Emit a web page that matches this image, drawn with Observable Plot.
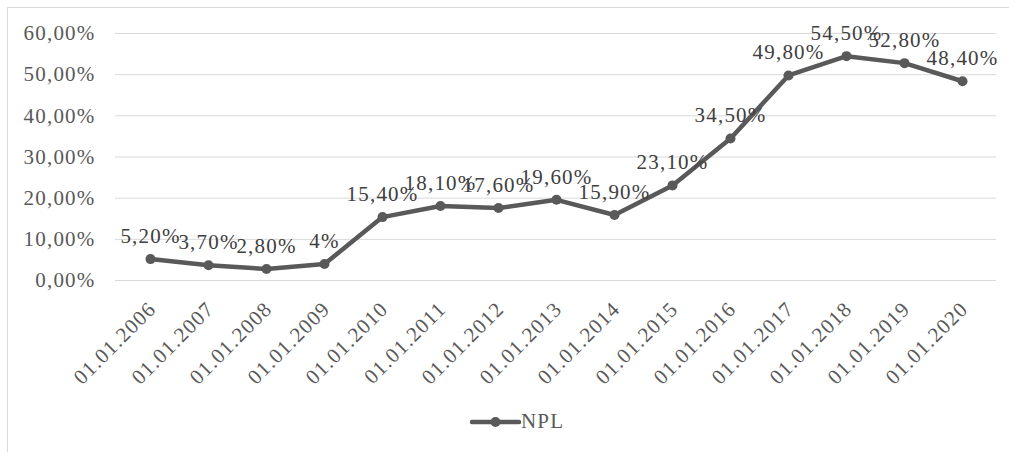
<!DOCTYPE html>
<html>
<head>
<meta charset="utf-8">
<script src="https://cdn.jsdelivr.net/npm/d3@7"></script>
<script src="https://cdn.jsdelivr.net/npm/@observablehq/plot@0.6"></script>
<style>
  html, body { margin: 0; padding: 0; background: #fff; }
  body { width: 1009px; height: 452px; position: relative; overflow: hidden; font-family: "Liberation Serif", "Times New Roman", serif; }
  #frame { position: absolute; left: 7px; top: 7px; width: 1010px; height: 460px; border-left: 1px solid #d9d9d9; border-top: 1px solid #d9d9d9; box-sizing: border-box; }
  #chart { position: absolute; left: 0; top: 0; }
  #chart svg text { letter-spacing: 1.2px; }
  #legend { position: absolute; left: 470px; top: 409px; display: flex; align-items: center; font-size: 21px; color: #595959; letter-spacing: 1.2px; }
</style>
</head>
<body>
<div id="frame"></div>
<div id="chart"></div>
<div id="legend">
  <svg width="51" height="14"><line x1="2" y1="7" x2="49" y2="7" stroke="#595959" stroke-width="4.5" stroke-linecap="round"/><circle cx="25.5" cy="7" r="5" fill="#595959"/></svg><span>NPL</span>
</div>
<script>
const dates = ["01.01.2006","01.01.2007","01.01.2008","01.01.2009","01.01.2010","01.01.2011","01.01.2012","01.01.2013","01.01.2014","01.01.2015","01.01.2016","01.01.2017","01.01.2018","01.01.2019","01.01.2020"];
const npl = [5.2, 3.7, 2.8, 4, 15.4, 18.1, 17.6, 19.6, 15.9, 23.1, 34.5, 49.8, 54.5, 52.8, 48.4];
const nplLabels = ["5,20%","3,70%","2,80%","4%","15,40%","18,10%","17,60%","19,60%","15,90%","23,10%","34,50%","49,80%","54,50%","52,80%","48,40%"];
const yTicks = [0, 10, 20, 30, 40, 50, 60];
const seriesName = "NPL";

const data = dates.map((d, i) => ({date: d, value: npl[i], label: nplLabels[i]}));
const fmt = v => v.toFixed(2).replace(".", ",") + "%";

const chart = Plot.plot({
  width: 1009,
  height: 400,
  marginLeft: 115,
  marginRight: 13,
  marginTop: 33,
  marginBottom: 120,
  style: {fontFamily: "'Liberation Serif', 'Times New Roman', serif", fontSize: "21px", background: "transparent", overflow: "visible"},
  x: {type: "point", domain: dates, padding: 0.5, axis: null},
  y: {domain: [0, 60], axis: null},
  marks: [
    Plot.ruleY(yTicks, {stroke: "#d9d9d9", strokeWidth: 1}),
    Plot.axisY(yTicks, {tickSize: 0, tickPadding: 20, tickFormat: fmt, fill: "#595959", label: null}),
    Plot.text(dates, {x: d => d, frameAnchor: "bottom", dy: 25, dx: 2, rotate: -45, textAnchor: "end", lineAnchor: "middle", fill: "#595959"}),
    Plot.line(data, {x: "date", y: "value", stroke: "#595959", strokeWidth: 4.5, strokeLinejoin: "round", strokeLinecap: "round"}),
    Plot.dot(data, {x: "date", y: "value", r: 5, fill: "#595959", stroke: "none"}),
    Plot.text(data, {x: "date", y: "value", text: "label", dy: -23, lineAnchor: "middle", fill: "#404040"})
  ]
});
document.getElementById("chart").appendChild(chart);
document.getElementById("legend").querySelector("span").textContent = seriesName;
</script>
</body>
</html>
